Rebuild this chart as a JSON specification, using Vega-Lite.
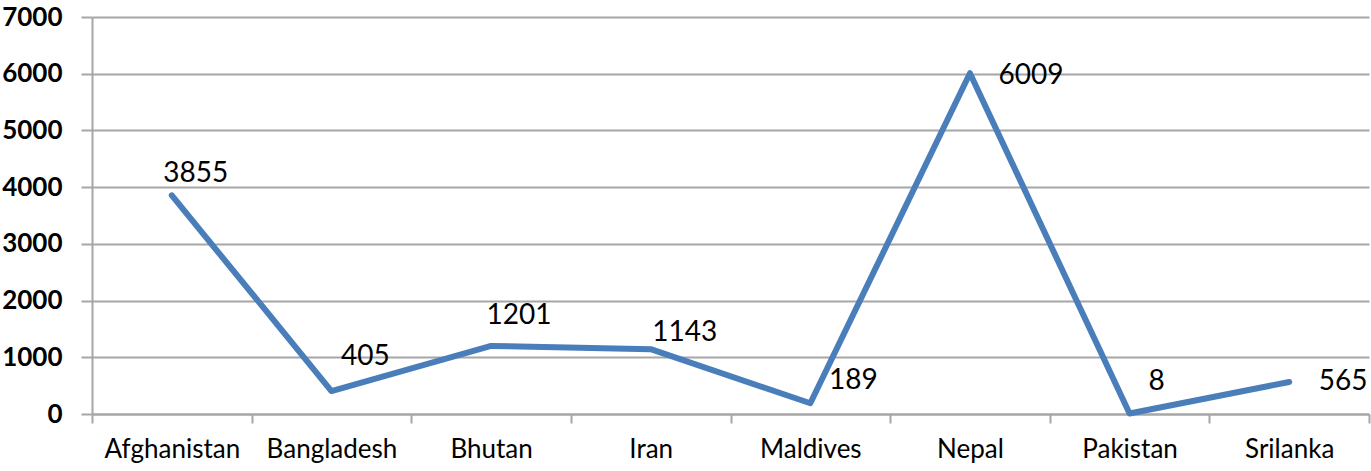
{
  "$schema": "https://vega.github.io/schema/vega-lite/v6.json",
  "width": 1277,
  "height": 397,
  "autosize": {"type": "none"},
  "padding": {"left": 92, "top": 17, "right": 2, "bottom": 57},
  "background": "white",
  "config": {"view": {"stroke": null}},
  "data": {"values": [
    {"country": "Afghanistan", "value": 3855},
    {"country": "Bangladesh", "value": 405},
    {"country": "Bhutan", "value": 1201},
    {"country": "Iran", "value": 1143},
    {"country": "Maldives", "value": 189},
    {"country": "Nepal", "value": 6009},
    {"country": "Pakistan", "value": 8},
    {"country": "Srilanka", "value": 565}
  ]},
  "encoding": {
    "x": {"field": "country", "type": "nominal", "sort": null,
      "scale": {"type": "band", "paddingInner": 0, "paddingOuter": 0},
      "axis": {"title": null, "labelAngle": 0, "tickBand": "extent", "grid": false,
        "domainColor": "#A6A6A6", "domainWidth": 2, "tickColor": "#A6A6A6", "tickWidth": 2, "tickSize": 9,
        "labelFont": "Lato", "labelFontSize": 26, "labelColor": "#000000", "labelPadding": 13}},
    "y": {"field": "value", "type": "quantitative",
      "scale": {"domain": [0, 7000], "nice": false},
      "axis": {"title": null, "values": [0, 1000, 2000, 3000, 4000, 5000, 6000, 7000], "format": "d",
        "grid": true, "gridColor": "#A6A6A6", "gridWidth": 2,
        "domainColor": "#A6A6A6", "domainWidth": 2, "tickColor": "#A6A6A6", "tickWidth": 2, "tickSize": 11,
        "labelFont": "Lato", "labelFontSize": 26, "labelFontWeight": "bold", "labelColor": "#000000", "labelPadding": 19}}
  },
  "layer": [
    {"mark": {"type": "line", "color": "#4A7EBB", "strokeWidth": 6, "strokeCap": "round", "strokeJoin": "round"}},
    {"transform": [{"filter": "datum.country == 'Afghanistan'"}], "mark": {"type": "text", "font": "Lato", "fontSize": 28, "color": "#000000", "dx": 24, "dy": -21}, "encoding": {"text": {"field": "value"}}},
    {"transform": [{"filter": "datum.country == 'Bangladesh'"}], "mark": {"type": "text", "font": "Lato", "fontSize": 28, "color": "#000000", "dx": 34, "dy": -34}, "encoding": {"text": {"field": "value"}}},
    {"transform": [{"filter": "datum.country == 'Bhutan'"}], "mark": {"type": "text", "font": "Lato", "fontSize": 28, "color": "#000000", "dx": 28, "dy": -30}, "encoding": {"text": {"field": "value"}}},
    {"transform": [{"filter": "datum.country == 'Iran'"}], "mark": {"type": "text", "font": "Lato", "fontSize": 28, "color": "#000000", "dx": 34, "dy": -16}, "encoding": {"text": {"field": "value"}}},
    {"transform": [{"filter": "datum.country == 'Maldives'"}], "mark": {"type": "text", "font": "Lato", "fontSize": 28, "color": "#000000", "dx": 43, "dy": -22}, "encoding": {"text": {"field": "value"}}},
    {"transform": [{"filter": "datum.country == 'Nepal'"}], "mark": {"type": "text", "font": "Lato", "fontSize": 28, "color": "#000000", "dx": 61, "dy": 3}, "encoding": {"text": {"field": "value"}}},
    {"transform": [{"filter": "datum.country == 'Pakistan'"}], "mark": {"type": "text", "font": "Lato", "fontSize": 28, "color": "#000000", "dx": 27, "dy": -32}, "encoding": {"text": {"field": "value"}}},
    {"transform": [{"filter": "datum.country == 'Srilanka'"}], "mark": {"type": "text", "font": "Lato", "fontSize": 28, "color": "#000000", "dx": 54, "dy": 0}, "encoding": {"text": {"field": "value"}}}
  ]
}
